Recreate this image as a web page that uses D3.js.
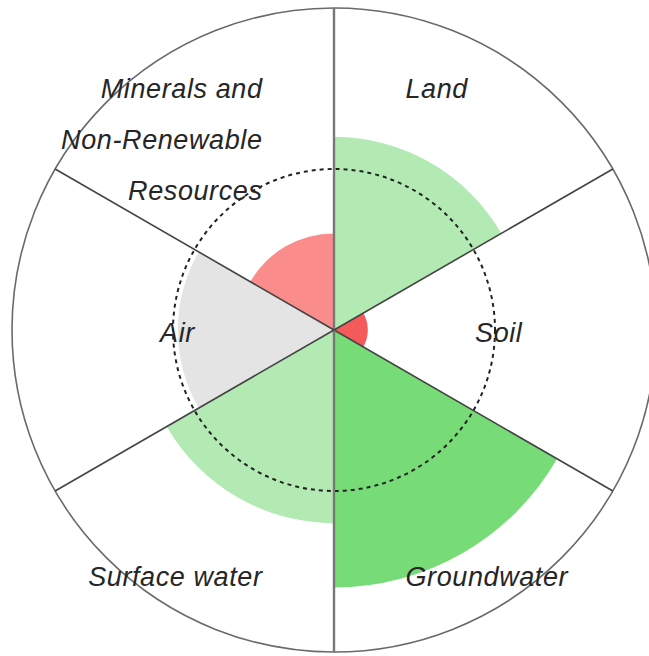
<!DOCTYPE html>
<html>
<head>
<meta charset="utf-8">
<script src="https://cdn.jsdelivr.net/npm/d3@7"></script>
<style>
  html, body { margin: 0; padding: 0; background: #fff; }
  svg { display: block; }
  .label { font-family: "Liberation Sans", Arial, sans-serif; font-style: italic; fill: #262626; }
</style>
</head>
<body>
<svg id="chart" width="649" height="656"></svg>
<script>
// Environmental compartments, clockwise from 12 o'clock
const categories = ["Land", "Soil", "Groundwater", "Surface water", "Air", "Minerals and Non-Renewable Resources"];
// Relative score of each compartment (1 = outer ring, 0.5 = dashed reference ring)
const values = [0.60, 0.105, 0.80, 0.60, 0.485, 0.30];
const colors = ["#b3eab3", "#f55a5a", "#77db77", "#b3eab3", "#e4e4e4", "#fb8c8c"];
const labelLines = [["Land"], ["Soil"], ["Groundwater"], ["Surface water"], ["Air"], ["Minerals and", "Non-Renewable", "Resources"]];
const referenceLevel = 0.5;

const width = 649, height = 656;
const cx = 334, cy = 330, R = 322;

const svg = d3.select("#chart");
const g = svg.append("g").attr("transform", `translate(${cx},${cy})`);

const n = categories.length;
const angle = d3.scaleLinear().domain([0, n]).range([0, 2 * Math.PI]);
const radius = d3.scaleLinear().domain([0, 1]).range([0, R]);

const arc = d3.arc()
  .innerRadius(0)
  .outerRadius(d => radius(d.value))
  .startAngle(d => angle(d.i))
  .endAngle(d => angle(d.i + 1));

const data = categories.map((c, i) => ({ name: c, value: values[i], i }));

// wedges
g.selectAll("path.wedge")
  .data(data)
  .join("path")
  .attr("class", "wedge")
  .attr("d", arc)
  .attr("fill", (d, i) => colors[i]);

// dashed reference ring
g.append("circle")
  .attr("r", radius(referenceLevel))
  .attr("fill", "none")
  .attr("stroke", "#222")
  .attr("stroke-width", 2)
  .attr("stroke-dasharray", "4,4");

// outer ring
g.append("circle")
  .attr("r", radius(1))
  .attr("fill", "none")
  .attr("stroke", "#6a6a6a")
  .attr("stroke-width", 1.6);

// sector dividers
g.selectAll("line.divider")
  .data(d3.range(n))
  .join("line")
  .attr("class", "divider")
  .attr("x1", 0).attr("y1", 0)
  .attr("x2", i => radius(1) * Math.sin(angle(i)))
  .attr("y2", i => -radius(1) * Math.cos(angle(i)))
  .attr("stroke", i => (i % 3 === 0 ? "#777" : "#444"))
  .attr("stroke-width", i => (i % 3 === 0 ? 2.4 : 1.6));

// labels: right-hand sectors start right of the axis, left-hand ones end left of it
const fontSize = 27;
const lineGap = 51;
const labelPos = [
  { x: 0.222, y: -0.748, anchor: "start" },
  { x: 0.438, y: 0.009, anchor: "start" },
  { x: 0.222, y: 0.767, anchor: "start" },
  { x: -0.222, y: 0.767, anchor: "end" },
  { x: -0.432, y: 0.009, anchor: "end" },
  { x: -0.222, y: -0.748, anchor: "end" }
];

labelLines.forEach((lines, i) => {
  const p = labelPos[i];
  const t = g.append("text")
    .attr("class", "label")
    .attr("font-size", fontSize)
    .attr("letter-spacing", 0.6)
    .attr("text-anchor", p.anchor)
    .attr("x", p.x * R)
    .attr("y", p.y * R)
    .attr("dominant-baseline", "central");
  lines.forEach((ln, k) => {
    t.append("tspan")
      .attr("x", p.x * R)
      .attr("dy", k === 0 ? 0 : lineGap)
      .text(ln);
  });
});
</script>
</body>
</html>
